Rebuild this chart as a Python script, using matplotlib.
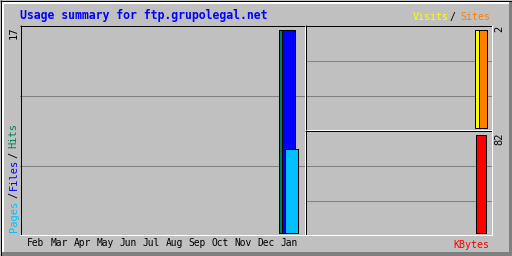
import matplotlib
matplotlib.use("Agg")
import matplotlib.pyplot as plt
from matplotlib.transforms import blended_transform_factory as blend

# ---------------- data ----------------
months = ["Feb", "Mar", "Apr", "May", "Jun", "Jul", "Aug", "Sep", "Oct", "Nov", "Dec", "Jan"]
hits = [0, 0, 0, 0, 0, 0, 0, 0, 0, 0, 0, 17]
files = [0, 0, 0, 0, 0, 0, 0, 0, 0, 0, 0, 17]
pages = [0, 0, 0, 0, 0, 0, 0, 0, 0, 0, 0, 7]
visits = [0, 0, 0, 0, 0, 0, 0, 0, 0, 0, 0, 2]
sites = [0, 0, 0, 0, 0, 0, 0, 0, 0, 0, 0, 2]
kbytes = [0, 0, 0, 0, 0, 0, 0, 0, 0, 0, 0, 82]
title = "Usage summary for ftp.grupolegal.net"

# ---------------- style ----------------
W, H = 512, 256
PX = 72.0 / 100  # one pixel in points
BG = "#C0C0C0"
GRID = "#808080"
C_HITS = "#00805C"
C_FILES = "#0000FF"
C_PAGES = "#00C0FF"
C_VISITS = "#FFFF00"
C_SITES = "#FF8000"
C_KB = "#FF0000"
MONO = "DejaVu Sans Mono"

fig = plt.figure(figsize=(W / 100, H / 100), dpi=100, facecolor=BG)

ov = fig.add_axes([0, 0, 1, 1], zorder=10)
ov.set_xlim(0, W)
ov.set_ylim(H, 0)
ov.axis("off")
ov.patch.set_alpha(0)


def panel(x0, y0, x1, y1, xc0, xstep, yzero, ytop, ymax):
    ax = fig.add_axes([x0 / W, 1 - y1 / H, (x1 - x0) / W, (y1 - y0) / H], zorder=1)
    ax.set_facecolor(BG)
    for s in ax.spines.values():
        s.set_visible(False)
    ax.set_xticks([])
    ax.set_yticks([])
    ax.set_xlim((x0 - xc0) / xstep, (x1 - xc0) / xstep)
    scale = (yzero - ytop) / ymax
    ax.set_ylim(-(y1 - yzero) / scale, ymax + (ytop - y0) / scale)
    return ax


def bars(ax, vals, off, width, step, color):
    xs = [i + off / step for i, v in enumerate(vals) if v > 0]
    hs = [v for v in vals if v > 0]
    ax.bar(xs, hs, width=width / step, align="edge", color=color,
           edgecolor="black", linewidth=PX, zorder=3)


def grid(ax, ys):
    tr = blend(ax.transAxes, ov.transData)
    for y in ys:
        ax.plot([0, 1], [y + 0.5, y + 0.5], color=GRID, lw=PX, transform=tr, zorder=1)


# left panel: hits / files / pages
axL = panel(20, 25, 305, 235, 36, 23, 232.5, 29.5, max(hits))
grid(axL, [95, 165])
bars(axL, hits, -10, 13, 23, C_HITS)
bars(axL, files, -7, 13, 23, C_FILES)
bars(axL, pages, -4, 13, 23, C_PAGES)

# top right: visits / sites
axV = panel(305, 25, 492, 130, 310.5, 15.5, 127.5, 29.5, max(visits))
grid(axV, [60, 95])
bars(axV, visits, -6, 9, 15.5, C_VISITS)
bars(axV, sites, -2, 8, 15.5, C_SITES)

# bottom right: kbytes
axK = panel(305, 130, 492, 235, 310.5, 15.5, 232.5, 134.5, max(kbytes))
grid(axK, [165, 200])
bars(axK, kbytes, -5, 10, 15.5, C_KB)


# ---------------- frame lines ----------------
def hline(y, x0, x1, c):
    ov.plot([x0, x1 + 1], [y + 0.5, y + 0.5], color=c, lw=PX, solid_capstyle="butt")


def vline(x, y0, y1, c):
    ov.plot([x + 0.5, x + 0.5], [y0, y1 + 1], color=c, lw=PX, solid_capstyle="butt")


# outer 3D border
for y in (1, 2):
    hline(y, 1, 510, "white")
for x in (1, 2):
    vline(x, 1, 254, "white")
for y in (251, 252, 253, 254):
    hline(y, 1, 510, GRID)
for x in (508, 509, 510):
    vline(x, 1, 254, GRID)
hline(0, 0, 511, "black")
hline(255, 0, 511, "black")
vline(0, 0, 255, "black")
vline(511, 0, 255, "black")


def inset(x0, y0, x1, y1):
    hline(y0, x0, x1, "black")
    vline(x0, y0, y1, "black")
    hline(y1, x0, x1, "white")
    vline(x1, y0, y1, "white")


inset(20, 25, 304, 234)
inset(305, 25, 491, 129)
inset(305, 130, 491, 234)

# ---------------- texts ----------------
ov.text(20, 15.5, title, color=C_FILES, family=MONO, weight="bold",
        fontsize=8.3, ha="left", va="center")

ov.text(448.5, 17, "Visits", color=C_VISITS, family=MONO, fontsize=7.2, ha="right", va="center")
ov.text(453, 17, "/", color="black", family=MONO, fontsize=7.2, ha="center", va="center")
ov.text(490.5, 17, "Sites", color=C_SITES, family=MONO, fontsize=7.2, ha="right", va="center")

ov.text(489.5, 245.5, "KBytes", color=C_KB, family=MONO, fontsize=7.2, ha="right", va="center")

trm = blend(axL.transData, ov.transData)
for i, m in enumerate(months):
    ov.text(i, 243.5, m, transform=trm, color="black", family=MONO,
            fontsize=6.9, ha="center", va="center")

# left vertical legend
leg = [("Pages", C_PAGES, 232.5), ("/", "black", 198.5), ("Files", C_FILES, 190.5),
       ("/", "black", 157.5), ("Hits", C_HITS, 148.5)]
for txt, col, yb in leg:
    ov.text(13.5, yb, txt, color=col, family=MONO, fontsize=7.5, rotation=90,
            ha="center", va="bottom")

ov.text(13.5, 26.5, str(max(hits)), color="black", family=MONO, fontsize=7.5,
        rotation=90, ha="center", va="top")
ov.text(499.5, 25.5, str(max(visits)), color="black", family=MONO, fontsize=7.5,
        rotation=90, ha="center", va="top")
ov.text(499.5, 132.5, str(max(kbytes)), color="black", family=MONO, fontsize=7.5,
        rotation=90, ha="center", va="top")

fig.savefig("out.png", dpi=100, facecolor=BG)
